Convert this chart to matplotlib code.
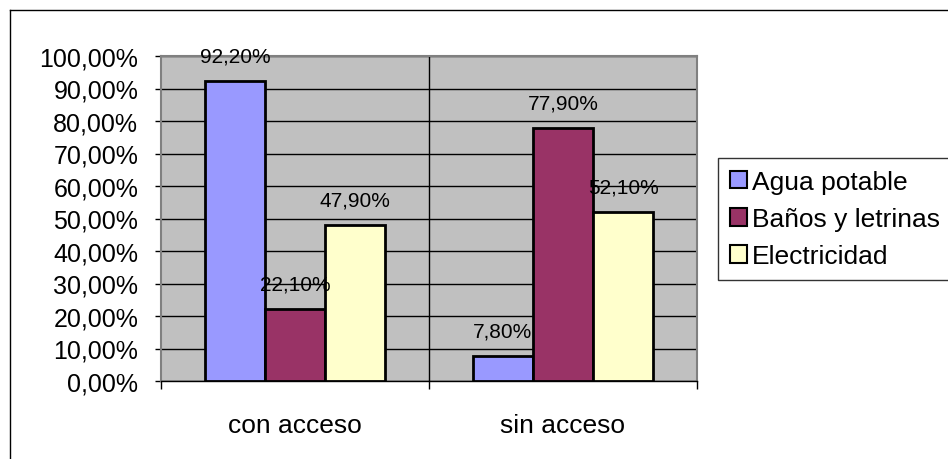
import matplotlib

matplotlib.use("Agg")
import matplotlib.pyplot as plt
import numpy as np
from matplotlib.lines import Line2D
from matplotlib.patches import Patch
from matplotlib.ticker import FuncFormatter, MultipleLocator

plt.rcParams["font.family"] = ["Liberation Sans", "DejaVu Sans"]

categories = ["con acceso", "sin acceso"]
series = ["Agua potable", "Baños y letrinas", "Electricidad"]
agua = [92.2, 7.8]
banos = [22.1, 77.9]
electricidad = [47.9, 52.1]
colors = ["#9999FF", "#993366", "#FFFFCC"]


def pct(v):
    return f"{v:.2f}".replace(".", ",") + "%"


fig = plt.figure(figsize=(9.48, 4.6), dpi=100)
ax = fig.add_axes([161 / 948, 78 / 460, 536 / 948, 325 / 460])
ax.set_facecolor("#C0C0C0")

x = np.arange(len(categories))
width = 0.224
for i, (vals, col) in enumerate(zip([agua, banos, electricidad], colors)):
    pos = x + (i - 1) * width
    ax.bar(pos, vals, width=width, color=col, edgecolor="black", linewidth=2, zorder=3)
    for px, v in zip(pos, vals):
        ax.annotate(pct(v), (px, v), xytext=(0, 25), textcoords="offset pixels",
                    ha="center", va="center", fontsize=15, zorder=4)

ax.set_xlim(-0.5, 1.5)
ax.set_ylim(0, 100)
ax.yaxis.set_major_locator(MultipleLocator(10))
ax.yaxis.set_major_formatter(FuncFormatter(lambda v, p: pct(v)))
ax.grid(True, axis="y", color="black", linewidth=1, zorder=1)
ax.axvline(0.5, color="black", linewidth=1, zorder=1)

ax.set_xticks(x)
ax.set_xticklabels(categories)
ax.set_xticks([-0.5, 0.5, 1.5], minor=True)
ax.tick_params(axis="x", which="major", length=0, pad=23, labelsize=19)
ax.tick_params(axis="x", which="minor", length=6, width=1, direction="out")
ax.tick_params(axis="y", length=4.3, width=1, pad=12, labelsize=18)

for side in ["top", "right", "left"]:
    ax.spines[side].set_color("#808080")
    ax.spines[side].set_linewidth(1.5)
ax.spines["bottom"].set_color("black")
ax.spines["bottom"].set_linewidth(1)

handles = [Patch(facecolor=c, edgecolor="black", linewidth=1.5) for c in colors]
leg = fig.legend(handles, series, loc="upper left", bbox_to_anchor=(718 / 948, 1 - 159 / 460),
                 fontsize=19, frameon=True, fancybox=False, edgecolor="black",
                 handlelength=0.65, handleheight=0.65, handletextpad=0.2,
                 labelspacing=0.5, borderpad=0.45, borderaxespad=0)
leg.get_frame().set_linewidth(1)

# outer chart border
fig.add_artist(Line2D([10 / 948, 1.0], [1 - 11 / 460] * 2, color="black", linewidth=1))
fig.add_artist(Line2D([10 / 948] * 2, [0, 1 - 11 / 460], color="black", linewidth=1))

fig.savefig("out.png", dpi=100)
